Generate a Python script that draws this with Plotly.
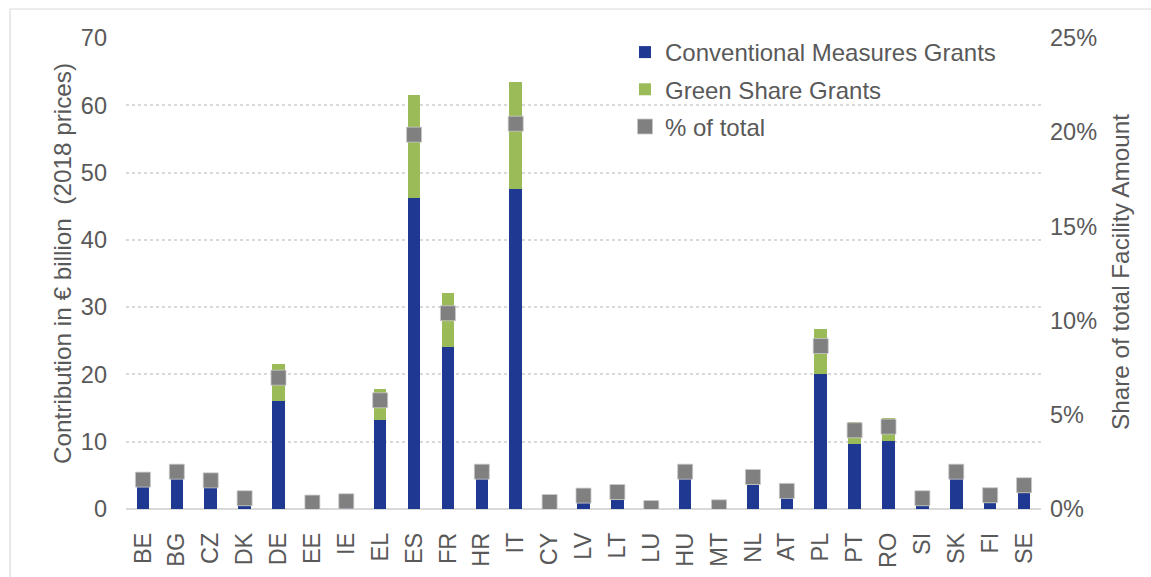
import plotly.graph_objects as go

countries = ["BE", "BG", "CZ", "DK", "DE", "EE", "IE", "EL", "ES", "FR", "HR", "IT", "CY", "LV",
             "LT", "LU", "HU", "MT", "NL", "AT", "PL", "PT", "RO", "SI", "SK", "FI", "SE"]
conventional_grants = [3.3, 4.5, 3.2, 0.5, 16.1, 0.7, 0.9, 13.2, 46.2, 24.1, 4.5, 47.5, 0.8, 0.85,
                       1.4, 0.1, 4.5, 0.2, 3.6, 1.6, 20.1, 9.7, 10.1, 0.45, 4.5, 0.9, 2.4]
green_share_grants = [1.5, 1.6, 1.5, 1.3, 5.5, 0.35, 0.37, 4.7, 15.4, 8.0, 1.6, 15.9, 0.35, 1.35,
                      1.4, 0.06, 1.6, 0.08, 1.7, 1.4, 6.7, 3.2, 3.4, 1.3, 1.6, 1.36, 1.5]
share_of_total = [1.56, 1.98, 1.52, 0.57, 6.97, 0.34, 0.41, 5.77, 19.87, 10.39, 1.98, 20.45, 0.37, 0.71,
                  0.9, 0.05, 1.98, 0.09, 1.7, 0.96, 8.65, 4.18, 4.37, 0.57, 1.98, 0.73, 1.26]

TEXT = "#595959"
GRID = "#d9d9d9"
FONT = "Liberation Sans, Arial, sans-serif"
TICK_SIZE = 23.5
TITLE_SIZE = 24.3

fig = go.Figure()
fig.add_trace(go.Bar(
    x=countries, y=conventional_grants, name="Conventional Measures Grants",
    marker=dict(color="#1f3892", line=dict(width=0)), legendgroup="a",
))
fig.add_trace(go.Bar(
    x=countries, y=green_share_grants, name="Green Share Grants",
    marker=dict(color="#9bbb59", line=dict(width=0)), legendgroup="b",
))
fig.add_trace(go.Scatter(
    x=countries, y=share_of_total, name="% of total", yaxis="y2", mode="markers",
    marker=dict(symbol="square", size=15, color="#808080", line=dict(width=0.8, color="#c8c8c8")),
    legendgroup="c",
))

W, H = 1151, 577
L, R, T, B = 126, 110, 38, 68
pw, ph = W - L - R, H - T - B

def px_x(p):
    return (p - L) / pw

def px_y(p):
    return (H - B - p) / ph

fig.update_layout(
    width=W, height=H,
    margin=dict(l=L, r=R, t=T, b=B, autoexpand=False),
    paper_bgcolor="white", plot_bgcolor="white",
    barmode="stack", bargap=0.63,
    font=dict(family=FONT, color=TEXT, size=TICK_SIZE),
    showlegend=True,
    legend=dict(
        x=px_x(625), y=px_y(30), xanchor="left", yanchor="top",
        bgcolor="rgba(0,0,0,0)", font=dict(size=24, color=TEXT),
        tracegroupgap=3, itemwidth=30,
    ),
    xaxis=dict(
        type="category", range=[-0.5, len(countries) - 0.5], tickangle=-90,
        showgrid=False, ticks="", showline=False, automargin=False,
        tickfont=dict(size=TICK_SIZE, color=TEXT), ticklabelstandoff=18,
    ),
    yaxis=dict(
        range=[0, 70], dtick=10, showgrid=True, gridcolor=GRID, griddash="dot", gridwidth=1.5,
        zeroline=True, zerolinecolor=GRID, zerolinewidth=2, automargin=False,
        ticks="", tickfont=dict(size=TICK_SIZE, color=TEXT), ticklabelstandoff=18,
    ),
    yaxis2=dict(
        range=[0, 25], dtick=5, ticksuffix="%", overlaying="y", side="right",
        showgrid=False, zeroline=False, ticks="", automargin=False,
        tickfont=dict(size=TICK_SIZE, color=TEXT), ticklabelstandoff=8,
    ),
    annotations=[
        dict(text="Contribution in € billion  (2018 prices)", textangle=-90,
             xref="paper", yref="paper", x=px_x(62), y=px_y(264),
             xanchor="center", yanchor="middle", showarrow=False,
             font=dict(size=TITLE_SIZE, color=TEXT)),
        dict(text="Share of total Facility Amount", textangle=-90,
             xref="paper", yref="paper", x=px_x(1120), y=px_y(272),
             xanchor="center", yanchor="middle", showarrow=False,
             font=dict(size=TITLE_SIZE, color=TEXT)),
    ],
    shapes=[
        dict(type="line", xref="paper", yref="paper", x0=px_x(10), x1=px_x(W + 5),
             y0=px_y(9), y1=px_y(9), line=dict(color=GRID, width=1.2)),
        dict(type="line", xref="paper", yref="paper", x0=px_x(10), x1=px_x(10),
             y0=px_y(9), y1=px_y(H + 5), line=dict(color=GRID, width=1.2)),
    ],
)

fig.write_html("out.html")
